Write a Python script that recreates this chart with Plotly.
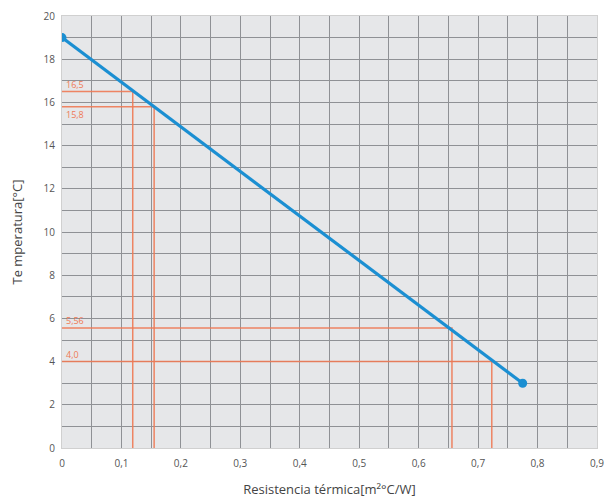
import plotly.graph_objects as go

# Data
line_x = [0, 0.775]
line_y = [19, 3]
ref_vals = [16.5, 15.8, 5.56, 4.0]
ref_x = [0.119, 0.155, 0.656, 0.723]
ref_labels = ["16,5", "15,8", "5,56", "4,0"]
ref_label_side = ["above", "below", "above", "above"]
x_ticks = [0, 0.1, 0.2, 0.3, 0.4, 0.5, 0.6, 0.7, 0.8, 0.9]
x_tick_labels = ["0", "0,1", "0,2", "0,3", "0,4", "0,5", "0,6", "0,7", "0,8", "0,9"]
y_ticks = [0, 2, 4, 6, 8, 10, 12, 14, 16, 18, 20]

orange = "#ef7a55"
blue = "#1b8fd2"
grid = "#8f9195"

fig = go.Figure()

for v, rx in zip(ref_vals, ref_x):
    fig.add_trace(go.Scatter(
        x=[0, rx, rx], y=[v, v, 0], mode="lines",
        line=dict(color=orange, width=1.5), opacity=0.9,
        hoverinfo="skip", showlegend=False))

fig.add_trace(go.Scatter(
    x=line_x, y=line_y, mode="lines+markers",
    line=dict(color=blue, width=3.2),
    marker=dict(color=blue, size=9),
    showlegend=False))

for v, lab, side in zip(ref_vals, ref_labels, ref_label_side):
    fig.add_annotation(
        x=0, y=v, text=lab, showarrow=False,
        xanchor="left", yanchor="bottom" if side == "above" else "top",
        xshift=2, yshift=-1 if side == "above" else 1,
        font=dict(family="Open Sans", size=9, color=orange))

fig.update_layout(
    width=604, height=500,
    margin=dict(l=62, r=7, t=16, b=52),
    paper_bgcolor="white",
    plot_bgcolor="#e6e7e9",
    font=dict(family="Open Sans", size=10, color="#555555"),
)

fig.update_xaxes(
    range=[0, 0.9], tickvals=x_ticks, ticktext=x_tick_labels, automargin=False,
    ticklabeloverflow="allow",
    showgrid=True, gridcolor=grid, gridwidth=1,
    minor=dict(dtick=0.05, tick0=0, showgrid=True, gridcolor=grid, gridwidth=1),
    zeroline=False, showline=True, linecolor="#d0d0d0", linewidth=1, mirror=True,
    ticks="", ticklabelstandoff=6, tickfont=dict(size=10, color="#555555"),
    title=dict(text="Resistencia térmica[m²°C/W]", font=dict(size=13, color="#444444"), standoff=15),
)
fig.update_yaxes(
    range=[0, 20], tickvals=y_ticks, automargin=False,
    showgrid=True, gridcolor=grid, gridwidth=1,
    minor=dict(dtick=1, tick0=0, showgrid=True, gridcolor=grid, gridwidth=1),
    zeroline=False, showline=True, linecolor="#d0d0d0", linewidth=1, mirror=True,
    ticks="", ticklabelstandoff=4, tickfont=dict(size=10, color="#555555"),
    title=dict(text="Te mperatura[°C]", font=dict(size=13, color="#444444"), standoff=18),
)

fig.write_html(
    "out.html",
    config={"responsive": False, "displayModeBar": False},
    post_script="document.body.style.margin='0';document.body.style.overflow='hidden';",
)
